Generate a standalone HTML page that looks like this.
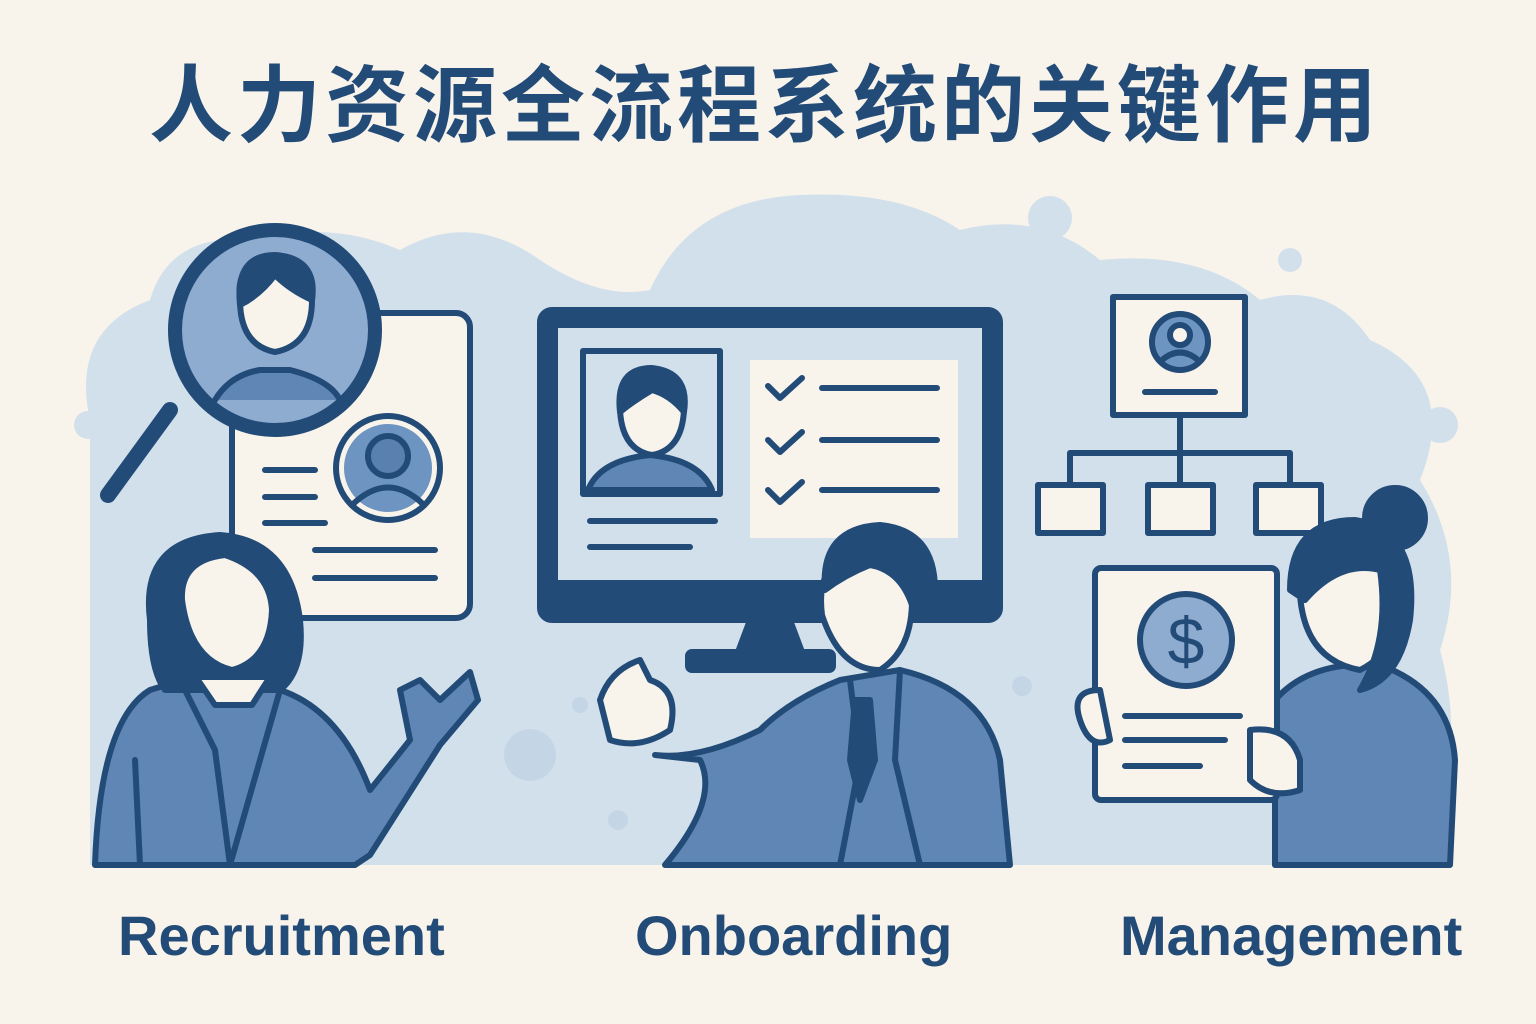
<!DOCTYPE html>
<html><head><meta charset="utf-8"><style>
html,body{margin:0;padding:0;background:#f8f4eb;}
svg{display:block}
text{font-family:"Liberation Sans","Noto Sans CJK SC",sans-serif;}
</style></head><body>
<svg width="1536" height="1024" viewBox="0 0 1536 1024" xmlns="http://www.w3.org/2000/svg">
<rect width="1536" height="1024" fill="#f8f4eb"/>
<text x="765" y="135" text-anchor="middle" font-size="84" font-weight="bold" fill="#234b78" font-family="Noto Sans CJK SC, sans-serif" letter-spacing="4">人力资源全流程系统的关键作用</text>
<g fill="#d2e0ec">
<path d="M90 865 L90 420 Q70 330 150 300 Q170 230 260 240 Q330 220 400 250 Q470 210 540 260 Q600 300 650 290 Q690 200 800 195 Q900 190 960 230 Q1040 210 1100 260 Q1200 250 1260 300 Q1330 280 1370 340 Q1460 380 1420 480 Q1470 560 1440 650 Q1470 760 1420 865 Z"/>
<circle cx="1050" cy="218" r="22"/><circle cx="1290" cy="260" r="12"/><circle cx="1440" cy="425" r="18"/><circle cx="88" cy="425" r="14"/><circle cx="1320" cy="370" r="10"/>
</g>
<g fill="#c4d6e6"><circle cx="530" cy="755" r="26"/><circle cx="1022" cy="686" r="10"/><circle cx="618" cy="820" r="10"/><circle cx="580" cy="705" r="8"/></g>
<g stroke="#234b78" stroke-width="6" fill="none" stroke-linecap="round" stroke-linejoin="round">
<rect x="232" y="313" width="238" height="305" rx="14" fill="#f8f4eb"/>
<circle cx="388" cy="468" r="52" fill="#f8f4eb"/>
<circle cx="388" cy="468" r="44" fill="#6e94c2" stroke="none"/>
<circle cx="388" cy="456" r="20" fill="#5a80b0"/>
<path d="M352 505 Q388 470 424 505"/>
<path d="M265 470h50M265 497h50M265 523h60M315 550h120M315 578h120"/>
<path d="M170 410 L108 495" stroke-width="16"/>
<circle cx="275" cy="330" r="100" fill="#8eabd0" stroke-width="14"/>
<path d="M215 400 Q230 375 260 370 L290 370 Q330 380 340 400" fill="#5f86b5"/>
<path d="M240 300 Q235 260 275 258 Q315 260 312 300 Q312 345 275 352 Q240 345 240 300Z" fill="#f8f4eb"/>
<path d="M240 305 Q235 255 275 255 Q318 258 312 300 Q290 290 275 275 Q260 295 240 305Z" fill="#234b78"/>
<rect x="540" y="310" width="460" height="310" rx="12" fill="#234b78"/>
<rect x="558" y="328" width="424" height="252" fill="#d2e0ec" stroke="none"/>
<path d="M750 620 L735 660 L805 660 L790 620Z" fill="#234b78"/>
<rect x="688" y="652" width="145" height="18" rx="4" fill="#234b78"/>
<rect x="583" y="351" width="137" height="143" fill="#d2e0ec"/>
<path d="M588 490 Q600 460 650 455 Q700 460 712 490Z" fill="#5f86b5"/>
<path d="M620 410 Q620 370 652 370 Q685 372 684 410 Q682 450 652 455 Q622 450 620 410Z" fill="#f8f4eb"/>
<path d="M620 412 Q615 368 652 368 Q690 372 684 412 Q670 395 652 390 Q635 400 620 412Z" fill="#234b78"/>
<path d="M590 521h125M590 547h100"/>
<rect x="750" y="360" width="208" height="178" fill="#f8f4eb" stroke="none"/>
<path d="M768 386l12 12 22-20M768 440l12 12 22-20M768 490l12 12 22-20"/>
<path d="M822 388h115M822 440h115M822 490h115"/>
<rect x="1113" y="297" width="132" height="118" fill="#f8f4eb"/>
<circle cx="1180" cy="342" r="28" fill="#6e94c2"/>
<circle cx="1180" cy="335" r="10" fill="#f8f4eb"/>
<path d="M1162 360 Q1180 345 1198 360"/>
<path d="M1145 392h70"/>
<path d="M1180 415v38M1070 485v-32h220v32M1180 453v32"/>
<rect x="1038" y="485" width="65" height="48" fill="#f8f4eb"/>
<rect x="1148" y="485" width="65" height="48" fill="#f8f4eb"/>
<rect x="1256" y="485" width="65" height="48" fill="#f8f4eb"/>
<path d="M95 865 Q100 720 150 690 L215 670 L280 690 Q340 710 370 790 L410 740 L400 690 L420 680 L440 700 L470 672 L478 700 L440 745 L370 855 L355 865Z" fill="#5f86b5"/>
<path d="M150 620 Q140 540 220 535 Q290 540 300 620 Q305 670 280 690 L165 690 Q150 670 150 620Z" fill="#234b78"/>
<path d="M182 600 Q180 560 225 555 Q270 570 272 610 Q270 660 232 670 Q190 660 182 600Z" fill="#f8f4eb"/>
<path d="M198 680 L215 705 L252 705 L268 680" fill="#f8f4eb"/>
<path d="M180 680 L215 750 L230 865M280 690 L260 760 L230 865M140 865 L135 760"/>
<path d="M655 755 Q700 760 760 730 Q790 700 840 680 L900 670 Q985 690 1000 760 L1010 865 L665 865 Q720 800 700 760Z" fill="#5f86b5"/>
<path d="M600 700 Q610 670 640 660 L650 680 Q680 690 670 730 Q640 750 610 740Z" fill="#f8f4eb"/>
<path d="M822 615 Q815 560 860 550 Q905 548 912 600 Q912 650 880 670 Q840 670 822 615Z" fill="#f8f4eb"/>
<path d="M825 590 Q820 528 880 525 Q935 530 935 590 L912 605 Q900 570 870 565 Q845 575 825 590Z" fill="#234b78"/>
<path d="M850 680 L860 760 L840 865M900 670 L895 760 L920 865"/>
<path d="M855 700 L870 700 L875 760 L860 800 L850 760Z" fill="#234b78"/>
<circle cx="1395" cy="518" r="30" fill="#234b78"/>
<path d="M1275 865 L1275 700 Q1310 660 1380 665 Q1450 690 1455 760 L1450 865Z" fill="#5f86b5"/>
<path d="M1300 595 Q1300 540 1350 535 Q1395 540 1400 600 Q1400 650 1360 670 Q1305 660 1300 595Z" fill="#f8f4eb"/>
<path d="M1290 590 Q1290 520 1355 520 Q1420 530 1410 620 Q1400 680 1360 690 Q1390 640 1380 570 Q1340 560 1305 600Z" fill="#234b78"/>
<rect x="1095" y="568" width="182" height="232" rx="6" fill="#f8f4eb"/>
<circle cx="1186" cy="640" r="46" fill="#8eabd0"/>
<text x="1186" y="664" font-size="66" text-anchor="middle" fill="#234b78" stroke="none" font-family="Liberation Sans">$</text>
<path d="M1125 716h115M1125 740h100M1125 766h75"/>
<path d="M1080 720 Q1070 690 1100 690 L1110 740 Q1090 750 1080 720Z" fill="#f8f4eb"/>
<path d="M1250 730 Q1290 725 1300 760 L1300 790 Q1270 800 1250 780Z" fill="#f8f4eb"/>
</g>
<g font-size="56" fill="#234b78" font-weight="bold">
<text x="118" y="955">Recruitment</text>
<text x="635" y="955">Onboarding</text>
<text x="1120" y="955">Management</text>
</g>
</svg>
</body></html>
